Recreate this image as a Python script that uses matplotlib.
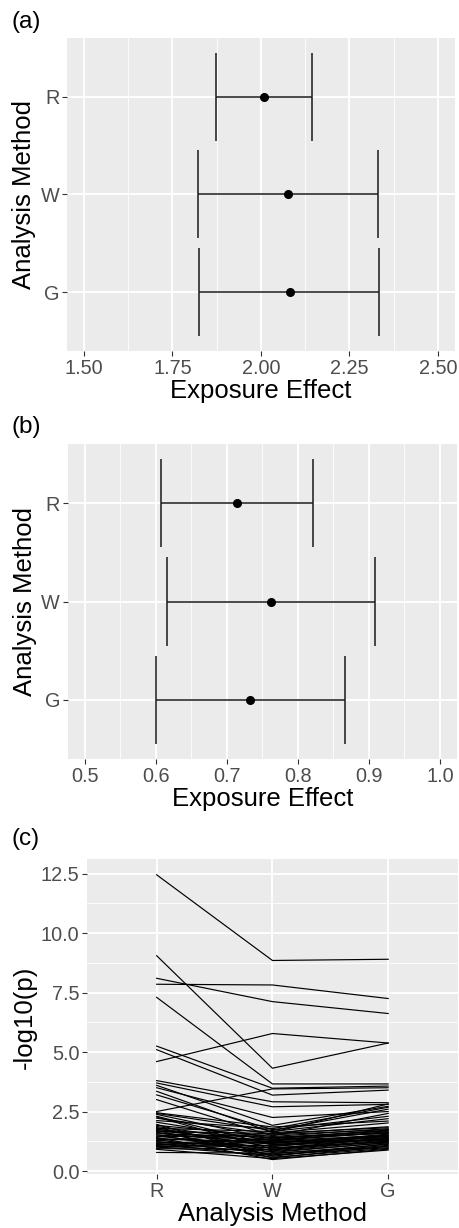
import matplotlib
matplotlib.use("Agg")
import matplotlib.pyplot as plt
from matplotlib.ticker import MultipleLocator

plt.rcParams["font.family"] = ["Liberation Sans", "DejaVu Sans"]

# categories (top to bottom in panels a and b)
methods = ["R", "W", "G"]

# panel (a): estimate with lower / upper interval bounds
a_est = [2.008, 2.076, 2.081]
a_lo = [1.873, 1.821, 1.826]
a_hi = [2.144, 2.331, 2.335]

# panel (b)
b_est = [0.714, 0.762, 0.733]
b_lo = [0.607, 0.616, 0.600]
b_hi = [0.821, 0.909, 0.866]

# panel (c): -log10(p) per variant for methods R, W, G
p_r = [12.45, 9.05, 4.60, 8.10, 7.85, 7.30, 5.25, 5.10, 3.80, 3.70,
       3.60, 3.50, 3.35, 3.20, 3.00, 2.50, 2.45, 2.38, 2.42, 2.30,
       2.22, 2.27, 2.12, 2.05, 1.96, 1.92, 1.87, 1.83, 1.79, 1.76,
       1.74, 1.71, 1.69, 1.66, 1.63, 1.61, 1.57, 1.53, 1.51, 1.47,
       1.44, 1.41, 1.37, 1.33, 1.29, 1.27, 1.24, 1.21, 1.17, 1.16,
       1.13, 1.11, 1.07, 1.05, 1.03, 1.01, 0.97, 0.94, 0.91, 0.78]
p_w = [8.85, 4.32, 5.78, 7.12, 7.82, 3.66, 3.48, 3.19, 2.91, 2.70,
       1.92, 2.25, 1.62, 1.74, 1.48, 3.45, 1.85, 1.35, 1.70, 1.10,
       1.55, 0.92, 1.78, 1.28, 0.62, 1.45, 1.18, 0.85, 1.66, 1.02,
       1.38, 0.55, 1.22, 1.58, 0.78, 1.12, 1.42, 0.68, 1.30, 0.95,
       1.52, 0.48, 1.15, 1.25, 0.88, 1.60, 0.72, 1.05, 1.33, 0.58,
       1.20, 0.98, 1.40, 0.82, 1.08, 0.66, 1.27, 0.90, 0.52, 0.75]
p_g = [8.90, 5.38, 5.38, 6.62, 7.25, 3.66, 3.57, 3.40, 2.87, 2.80,
       2.72, 2.50, 2.82, 2.30, 2.42, 3.50, 2.10, 1.72, 2.60, 1.45,
       1.86, 1.30, 2.68, 1.62, 1.15, 1.78, 1.40, 1.25, 2.20, 1.52,
       1.68, 1.05, 1.48, 1.82, 1.20, 1.35, 1.58, 0.98, 1.65, 1.38,
       1.74, 0.92, 1.55, 1.28, 1.42, 2.02, 1.12, 1.32, 1.60, 0.95,
       1.46, 1.22, 1.70, 1.18, 1.36, 1.08, 1.50, 1.26, 0.88, 1.02]

BG = "#EBEBEB"
TICK_COLOR = "#4D4D4D"
TICK_SIZE = 14.3
TITLE_SIZE = 18.5


def style_axes(ax):
    ax.set_facecolor(BG)
    for spine in ax.spines.values():
        spine.set_visible(False)
    ax.set_axisbelow(True)
    ax.grid(which="major", color="white", linewidth=1.3)
    ax.grid(which="minor", color="white", linewidth=0.6)
    ax.tick_params(which="major", length=3.5, width=0.8, color="#333333",
                   labelcolor=TICK_COLOR, labelsize=TICK_SIZE, pad=2)
    ax.tick_params(which="minor", length=0)


def interval_panel(ax, est, lo, hi, ticks, minor_step):
    pos = [3, 2, 1]
    ax.hlines(pos, lo, hi, color="#1a1a1a", linewidth=1.1)
    ax.vlines(lo, [p - 0.45 for p in pos], [p + 0.45 for p in pos],
              color="#1a1a1a", linewidth=1.1)
    ax.vlines(hi, [p - 0.45 for p in pos], [p + 0.45 for p in pos],
              color="#1a1a1a", linewidth=1.1)
    ax.plot(est, pos, "o", color="black", markersize=5.5)
    ax.set_yticks(pos)
    ax.set_yticklabels(methods)
    ax.set_ylim(0.4, 3.6)
    ax.set_xticks(ticks)
    span = ticks[-1] - ticks[0]
    ax.set_xlim(ticks[0] - 0.048 * span, ticks[-1] + 0.048 * span)
    ax.xaxis.set_minor_locator(MultipleLocator(minor_step))
    style_axes(ax)
    ax.set_xlabel("Exposure Effect", fontsize=TITLE_SIZE, labelpad=1)
    ax.set_ylabel("Analysis Method", fontsize=TITLE_SIZE, labelpad=3)


fig = plt.figure(figsize=(4.59, 12.28), dpi=100)

ax_a = fig.add_axes([0.146, 0.7142, 0.845, 0.2549])
interval_panel(ax_a, a_est, a_lo, a_hi, [1.50, 1.75, 2.00, 2.25, 2.50], 0.125)
ax_a.set_xticklabels(["1.50", "1.75", "2.00", "2.25", "2.50"])

ax_b = fig.add_axes([0.1475, 0.3819, 0.848, 0.2565])
interval_panel(ax_b, b_est, b_lo, b_hi, [0.5, 0.6, 0.7, 0.8, 0.9, 1.0], 0.05)
ax_b.set_xticklabels(["0.5", "0.6", "0.7", "0.8", "0.9", "1.0"])

ax_c = fig.add_axes([0.190, 0.0437, 0.807, 0.2565])
xs = [1, 2, 3]
for r, w, g in zip(p_r, p_w, p_g):
    ax_c.plot(xs, [r, w, g], color="black", linewidth=0.85)
ax_c.set_xticks(xs)
ax_c.set_xticklabels(methods)
ax_c.set_xlim(0.4, 3.6)
ax_c.set_ylim(-0.14, 13.1)
ax_c.set_yticks([0.0, 2.5, 5.0, 7.5, 10.0, 12.5])
ax_c.set_yticklabels(["0.0", "2.5", "5.0", "7.5", "10.0", "12.5"])
ax_c.yaxis.set_minor_locator(MultipleLocator(1.25))
style_axes(ax_c)
ax_c.set_xlabel("Analysis Method", fontsize=TITLE_SIZE, labelpad=1)
ax_c.set_ylabel("-log10(p)", fontsize=TITLE_SIZE, labelpad=3)

for label, y in [("(a)", 0.982), ("(b)", 0.652), ("(c)", 0.317)]:
    fig.text(0.025, y, label, fontsize=17.5, ha="left", va="center")

fig.savefig("out.png", dpi=100)
